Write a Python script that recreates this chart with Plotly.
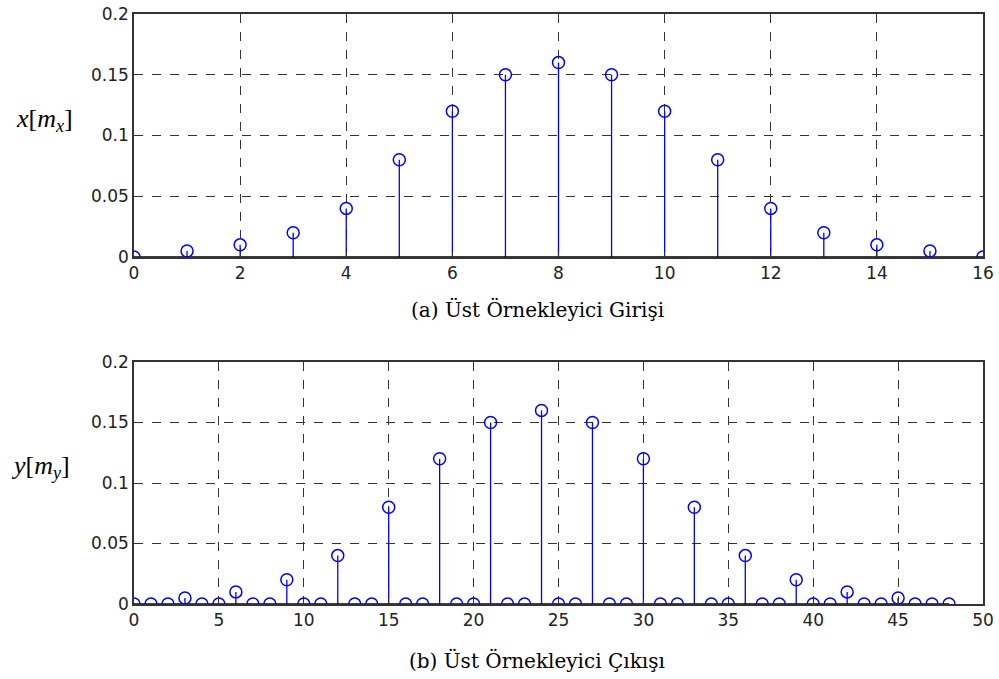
import plotly.graph_objects as go

# Data
n_x = list(range(0, 17))
x_vals = [0, 0.005, 0.01, 0.02, 0.04, 0.08, 0.12, 0.15, 0.16, 0.15, 0.12, 0.08, 0.04, 0.02, 0.01, 0.005, 0]
L = 3
n_y = list(range(0, 49))
y_vals = [0.0] * 49
for k, v in enumerate(x_vals):
    y_vals[k * L] = v

top_ticks = list(range(0, 17, 2))
bot_ticks = list(range(0, 51, 5))
y_ticks = [0, 0.05, 0.1, 0.15, 0.2]
y_ticklabels = ["0", "0.05", "0.1", "0.15", "0.2"]

BLUE = "#0000ff"

W, H = 999, 679
def px(x):
    return x / W
def py(y):
    return 1 - y / H

fig = go.Figure()

def stems(xs, ys):
    sx, sy = [], []
    for a, b in zip(xs, ys):
        sx += [a, a, None]
        sy += [0, b, None]
    return sx, sy

for xs, ys, xa, ya in [(n_x, x_vals, "x", "y"), (n_y, y_vals, "x2", "y2")]:
    sx, sy = stems(xs, ys)
    fig.add_trace(go.Scatter(x=sx, y=sy, mode="lines", line=dict(color=BLUE, width=1.3),
                             xaxis=xa, yaxis=ya, showlegend=False, hoverinfo="skip"))
    fig.add_trace(go.Scatter(x=[min(xs), max(xs)], y=[0, 0], mode="lines",
                             line=dict(color="black", width=1.5),
                             xaxis=xa, yaxis=ya, showlegend=False, hoverinfo="skip"))
    fig.add_trace(go.Scatter(x=xs, y=ys, mode="markers",
                             marker=dict(symbol="circle-open", size=12, color=BLUE, line=dict(width=1.5, color=BLUE)),
                             xaxis=xa, yaxis=ya, showlegend=False))

tickfont = dict(family="DejaVu Sans, Arial, sans-serif", size=17, color="#222222")
axis_common = dict(showline=True, linecolor="#333333", linewidth=1.5, mirror=True,
                   showgrid=True, gridcolor="#333333", griddash="dash", gridwidth=1,
                   zeroline=False, ticks="inside", ticklen=5, tickcolor="#333333",
                   tickfont=tickfont, automargin=False, ticklabeloverflow="allow")

fig.update_layout(
    template="none",
    width=W, height=H,
    margin=dict(l=0, r=0, t=0, b=0, pad=0),
    plot_bgcolor="white", paper_bgcolor="white",
    xaxis=dict(domain=[px(134), px(983)], range=[0, 16], tickvals=top_ticks, anchor="y", **axis_common),
    yaxis=dict(domain=[py(257), py(14)], range=[0, 0.2], tickvals=y_ticks, ticktext=y_ticklabels, anchor="x", **axis_common),
    xaxis2=dict(domain=[px(134), px(983)], range=[0, 50], tickvals=bot_ticks, anchor="y2", **axis_common),
    yaxis2=dict(domain=[py(604), py(362)], range=[0, 0.2], tickvals=y_ticks, ticktext=y_ticklabels, anchor="x2", **axis_common),
)

serif = "DejaVu Serif, Times New Roman, serif"
def ann(x, y, text, family, size):
    fig.add_annotation(x=px(x), y=py(y), xref="paper", yref="paper", showarrow=False,
                       xanchor="center", yanchor="middle",
                       text=text, font=dict(family=family, size=size, color="black"))

ann(537, 310, "(a) Üst Örnekleyici Girişi", serif, 20)
ann(537, 660, "(b) Üst Örnekleyici Çıkışı", serif, 20)
lab_serif = "Liberation Serif, Times New Roman, serif"
ann(44, 120, "<i>x</i>[<i>m</i><sub><i>x</i></sub>]", lab_serif, 26)
ann(40, 467, "<i>y</i>[<i>m</i><sub><i>y</i></sub>]", lab_serif, 26)

fig.write_html("out.html", config={"displayModeBar": False},
               post_script="document.body.style.margin='0';document.body.style.overflow='hidden';")
